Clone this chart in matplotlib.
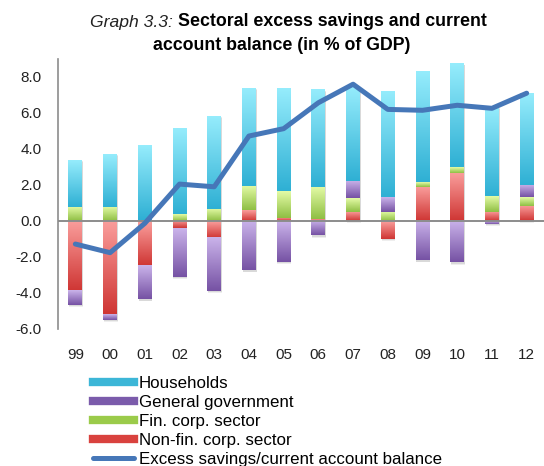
import numpy as np
import matplotlib
matplotlib.use('Agg')
import matplotlib.pyplot as plt
from matplotlib.colors import LinearSegmentedColormap
from matplotlib.lines import Line2D
from matplotlib.patches import Rectangle

plt.rcParams['font.family'] = ['Liberation Sans', 'DejaVu Sans']

# data (% of GDP)
years = ['99', '00', '01', '02', '03', '04', '05', '06', '07', '08', '09', '10', '11', '12']
non_fin_corp = [-3.89, -5.17, -2.48, -0.40, -0.93, 0.60, 0.18, 0.10, 0.52, -1.00, 1.90, 2.68, 0.52, 0.85]
fin_corp = [0.78, 0.78, 0.08, 0.38, 0.67, 1.36, 1.48, 1.80, 0.74, 0.52, 0.25, 0.32, 0.86, 0.47]
gen_gov = [-0.78, -0.33, -1.87, -2.70, -2.97, -2.74, -2.26, -0.80, 0.98, 0.83, -2.18, -2.30, -0.15, 0.68]
households = [2.61, 2.94, 4.12, 4.77, 5.16, 5.42, 5.71, 5.40, 5.21, 5.85, 6.15, 5.76, 4.97, 5.10]
current_account = [-1.28, -1.76, -0.13, 2.05, 1.90, 4.72, 5.13, 6.57, 7.60, 6.20, 6.15, 6.43, 6.26, 7.10]

# stacking order (bottom first) with gradient colours (light top, dark bottom) and legend colour
series = [
    ('Non-fin. corp. sector', non_fin_corp, '#fa9e9c', '#cf3634', '#d9423e'),
    ('Fin. corp. sector', fin_corp, '#e4fba6', '#8fbf44', '#9bcb4a'),
    ('General government', gen_gov, '#cab3ea', '#7652a4', '#7b5bab'),
    ('Households', households, '#95ecfc', '#2fb0d4', '#3cb6d7'),
]
line_color = '#4677b8'

fig = plt.figure(figsize=(5.44, 4.66), dpi=100)
ax = fig.add_axes([58 / 544, (466 - 329) / 466, 486 / 544, 270 / 466])

x = np.arange(len(years))
width = 0.4
grad = np.linspace(0, 1, 64).reshape(-1, 1)

pos_base = np.zeros(len(years))
neg_base = np.zeros(len(years))
segments = []
for name, vals, light, dark, _ in series:
    cmap = LinearSegmentedColormap.from_list(name, [dark, light])
    vals = np.array(vals)
    for i, v in enumerate(vals):
        if v >= 0:
            bottom, top = pos_base[i], pos_base[i] + v
            pos_base[i] = top
        else:
            bottom, top = neg_base[i] + v, neg_base[i]
            neg_base[i] = bottom
        segments.append((x[i], bottom, top, cmap))

# soft shadows below the bars
for i in range(len(years)):
    for off, a in [(0.12, 0.10), (0.07, 0.14)]:
        ax.add_patch(Rectangle((x[i] - width / 2 + 0.02, neg_base[i] - off), width, pos_base[i] - neg_base[i],
                               facecolor='#606060', alpha=a, edgecolor='none', zorder=1))

for xi, bottom, top, cmap in segments:
    if top - bottom <= 0:
        continue
    ax.imshow(grad, cmap=cmap, extent=(xi - width / 2, xi + width / 2, bottom, top),
              aspect='auto', origin='lower', zorder=2, interpolation='bilinear')

ax.axhline(0, color='#8c8c8c', lw=1.4, zorder=3)
ax.plot(x, current_account, color=line_color, lw=3.6, solid_capstyle='round',
        solid_joinstyle='round', zorder=4)

ax.set_xlim(-0.5, len(years) - 0.5)
ax.set_ylim(-6, 9)
ax.set_yticks(np.arange(-6, 9, 2))
ax.set_yticklabels([f'{v:.1f}' for v in np.arange(-6, 9, 2)])
ax.set_xticks(x)
ax.set_xticklabels(years)
ax.tick_params(axis='y', length=0, pad=12, labelsize=11, labelcolor='#222222')
ax.tick_params(axis='x', length=0, pad=14, labelsize=11, labelcolor='#222222')
for s in ['top', 'right', 'bottom']:
    ax.spines[s].set_visible(False)
ax.spines['left'].set_color('#8c8c8c')
ax.spines['left'].set_linewidth(1.2)

# title
fig.text(178 / 544, 1 - 22 / 466, 'Graph 3.3: ', style='italic', fontsize=12.6,
         ha='right', va='center', color='#222222')
fig.text(178 / 544, 1 - 22 / 466, 'Sectoral excess savings and current', fontweight='bold',
         fontsize=12.8, ha='left', va='center', color='black')
fig.text(282 / 544, 1 - 45 / 466, 'account balance (in % of GDP)', fontweight='bold',
         fontsize=12.8, ha='center', va='center', color='black')

# legend
handles = [Line2D([], [], color=s[4], lw=6) for s in series[::-1]]
labels = [s[0] for s in series[::-1]]
handles.append(Line2D([], [], color=line_color, lw=3.6, solid_capstyle='round'))
labels.append('Excess savings/current account balance')
fig.legend(handles, labels, loc='upper left', bbox_to_anchor=(86 / 544, 1 - 369 / 466),
           frameon=False, fontsize=12.2, handlelength=2.45, handletextpad=0.25,
           labelspacing=0.24, borderaxespad=0)

fig.savefig('out.png', dpi=100)
